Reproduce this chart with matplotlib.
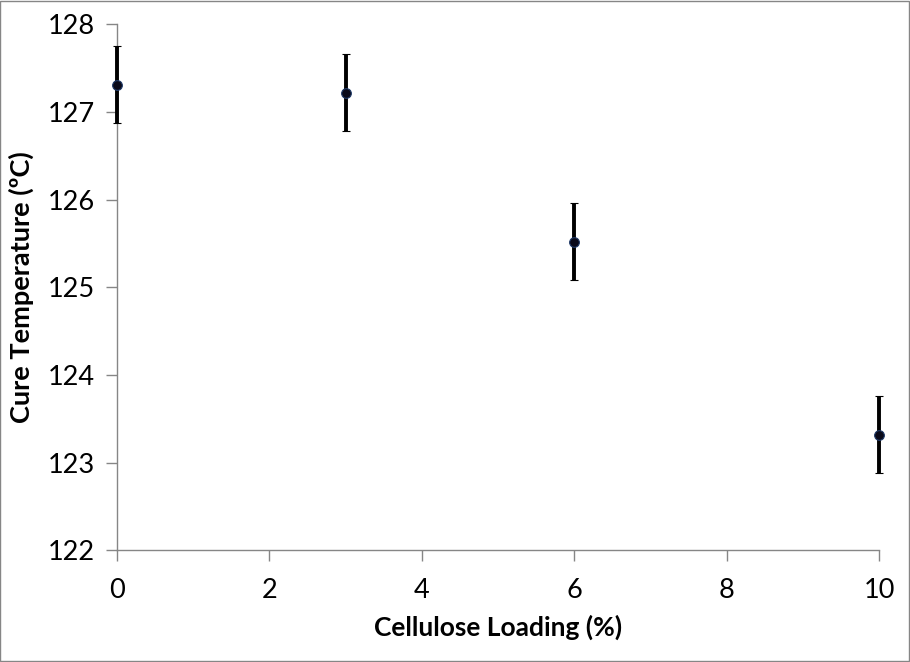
import matplotlib
matplotlib.use("Agg")
import matplotlib.pyplot as plt

loading = [0, 3, 6, 10]
cure_temp = [127.31, 127.22, 125.52, 123.32]
errors = [0.44, 0.44, 0.44, 0.44]
x_ticks = [0, 2, 4, 6, 8, 10]
y_ticks = [122, 123, 124, 125, 126, 127, 128]

plt.rcParams['font.family'] = ['Lato', 'DejaVu Sans']

fig = plt.figure(figsize=(9.1, 6.62), dpi=100)
fig.patch.set_facecolor('white')
ax = fig.add_axes([0.1286, 0.1685, 0.8374, 0.7948])

eb = ax.errorbar(loading, cure_temp, yerr=errors, fmt='o', color='black',
                 ecolor='black', elinewidth=2.8, capsize=3, capthick=2.8,
                 markersize=7, markerfacecolor='#0a0a1a', markeredgecolor='#1f3a68',
                 markeredgewidth=0.8, zorder=3, clip_on=False)
for artist in eb.lines[1] + eb.lines[2]:
    artist.set_clip_on(False)
for artist in eb[2]:
    artist.set_clip_on(False)

ax.set_xlim(0, 10)
ax.set_ylim(122, 128)
ax.set_xticks(x_ticks)
ax.set_yticks(y_ticks)
ax.set_xticklabels([str(t) for t in x_ticks])
ax.set_yticklabels([str(t) for t in y_ticks])

for s in ['top', 'right']:
    ax.spines[s].set_visible(False)
for s in ['left', 'bottom']:
    ax.spines[s].set_color('#868686')
    ax.spines[s].set_linewidth(1.0)
ax.tick_params(axis='both', direction='out', length=8, width=1.0, color='#868686',
               labelsize=19.5, labelcolor='black')
ax.tick_params(axis='x', pad=12)
ax.tick_params(axis='y', pad=8)

ax.set_xlabel('Cellulose Loading (%)', fontsize=19, fontweight='bold', labelpad=8)
ax.set_ylabel('Cure Temperature (ºC)', fontsize=19.5, fontweight='bold', labelpad=10)
ax.patch.set_alpha(0)

border = plt.Rectangle((0.0005, 0.0008), 0.998, 0.998, transform=fig.transFigure,
                       fill=False, edgecolor='#868686', linewidth=1.0)
fig.add_artist(border)

fig.savefig('out.png', dpi=100)
